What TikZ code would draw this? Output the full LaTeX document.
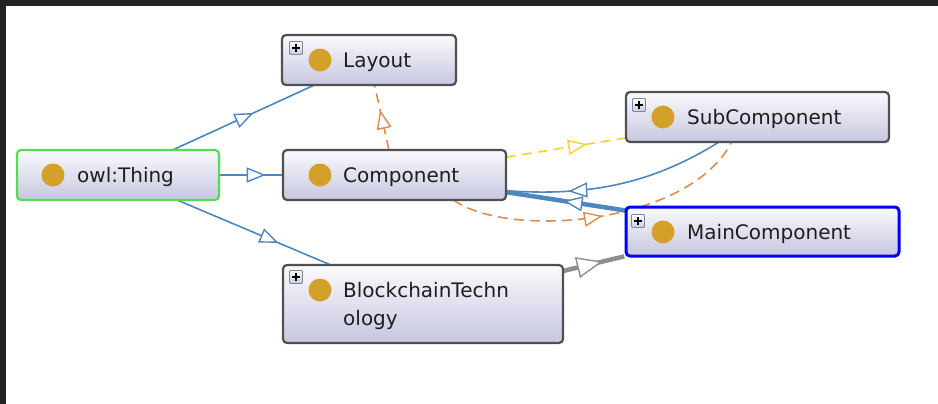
\documentclass[tikz,border=0pt]{standalone}
\usepackage{fontspec}
\setmainfont{DejaVu Sans}
\usetikzlibrary{arrows.meta,decorations.markings,backgrounds}
\definecolor{frame}{RGB}{34,34,34}
\definecolor{boxgray}{RGB}{80,80,84}
\definecolor{boxtop}{RGB}{250,250,253}
\definecolor{boxbot}{RGB}{198,198,224}
\definecolor{dotgold}{RGB}{211,160,42}
\definecolor{thinggreen}{RGB}{82,222,82}
\definecolor{mainblue}{RGB}{0,0,250}
\definecolor{labeltext}{RGB}{30,30,30}
\definecolor{plusedge}{RGB}{120,136,160}
\definecolor{plusfill}{RGB}{196,204,218}
\definecolor{edgeblue}{RGB}{78,135,192}
\definecolor{edgeorange}{RGB}{226,140,78}
\definecolor{edgeyellow}{RGB}{248,212,40}
\definecolor{edgegray}{RGB}{142,142,142}
\tikzset{
  classbox/.style={draw=boxgray, line width=2.2pt, rounded corners=4pt,
    top color=boxtop, bottom color=boxbot, inner sep=0pt, outer sep=0pt},
  classdot/.style={circle, fill=dotgold, minimum size=23pt, inner sep=0pt},
  classlbl/.style={anchor=base west, inner sep=0pt,
    font=\fontsize{20}{24}\selectfont, text=labeltext},
  plusbox/.style={draw=plusedge, line width=0.8pt, top color=white,
    bottom color=plusfill, minimum size=13pt, inner sep=0pt, rounded corners=1pt,
    path picture={
      \draw[black, line width=1.7pt]
        ([xshift=-4pt]path picture bounding box.center) --
        ([xshift=4pt]path picture bounding box.center);
      \draw[black, line width=1.7pt]
        ([yshift=-4pt]path picture bounding box.center) --
        ([yshift=4pt]path picture bounding box.center);}},
  isa/.style={draw=edgeblue, line width=1.6pt},
  orangedash/.style={draw=edgeorange, line width=1.6pt, dash pattern=on 10pt off 6pt},
  yellowdash/.style={draw=edgeyellow, line width=1.6pt, dash pattern=on 10pt off 6pt},
  graydash/.style={draw=edgegray, line width=4.5pt, dash pattern=on 30pt off 3pt},
  tipmark/.style={postaction={decorate}, decoration={markings,
    mark=at position #1 with {\arrow{Triangle[fill=white,line width=1.4pt,length=19pt,width=15pt]}}}},
  bigtip/.style={postaction={decorate}, decoration={markings,
    mark=at position #1 with {\arrow{Triangle[fill=white,line width=1.4pt,length=26pt,width=21pt]}}}},
}
\begin{document}
\begin{tikzpicture}[x=1pt,y=-1pt]
\useasboundingbox (0,0) rectangle (938,404);

% class boxes
\node[classbox, draw=thinggreen, minimum width=202pt, minimum height=50pt] (thing) at (118,175) {};
\node[classbox, minimum width=174pt, minimum height=50pt] (layout) at (369,60) {};
\node[classbox, minimum width=223pt, minimum height=50pt] (comp) at (394.5,175) {};
\node[classbox, minimum width=263pt, minimum height=50pt] (sub) at (757.5,117) {};
\node[classbox, draw=mainblue, line width=3pt, minimum width=273pt, minimum height=49pt] (main) at (762.5,231.5) {};
\node[classbox, minimum width=280pt, minimum height=78pt] (block) at (423,304) {};

% dots and labels
\node[classdot] (thingdot) at (53,175) {};
\node[classlbl] (thinglbl) at (77,182.3) {owl:Thing};
\node[classdot] (layoutdot) at (320,60) {};
\node[classlbl] (layoutlbl) at (343,67.3) {Layout};
\node[classdot] (compdot) at (320,175) {};
\node[classlbl] (complbl) at (343,182.3) {Component};
\node[classdot] (subdot) at (663,117) {};
\node[classlbl] (sublbl) at (687,124.3) {SubComponent};
\node[classdot] (maindot) at (663,232) {};
\node[classlbl] (mainlbl) at (687,239) {MainComponent};
\node[classdot] (blockdot) at (320,290) {};
\node[classlbl] (blocklbla) at (343,297) {BlockchainTechn};
\node[classlbl] (blocklblb) at (343,325) {ology};

% expand icons
\node[plusbox] (layoutplus) at (296,48) {};
\node[plusbox] (subplus) at (639,105) {};
\node[plusbox] (mainplus) at (638,221) {};
\node[plusbox] (blockplus) at (296,277) {};

% background, frame and connectors (behind the boxes)
\begin{pgfonlayer}{background}
\fill[white] (0,0) rectangle (938,404);
\fill[frame] (0,0) rectangle (938,6);
\fill[frame] (0,0) rectangle (6,404);
\draw[isa, tipmark=0.57] (thing) -- (layout);
\draw[isa, line width=2.4pt, tipmark=0.73] (thing) -- (comp);
\draw[isa, tipmark=0.66] (thing) -- (block);
\draw[orangedash, tipmark=0.615] (comp) -- (layout);
\draw[yellowdash, tipmark=0.675] (comp) -- (sub);
\draw[isa, line width=4.5pt, tipmark=0.52] (main) -- (comp);
\draw[isa, tipmark=0.72] (sub.213.7) .. controls (655,182) and (592,197) .. (comp.-8.7);
\draw[orangedash, tipmark=0.5] (comp.-23.5) .. controls (510,240) and (690,224) .. (sub.224.4);
\draw[graydash, bigtip=0.63] (block) -- (main.south west);
\end{pgfonlayer}
\end{tikzpicture}
\end{document}
